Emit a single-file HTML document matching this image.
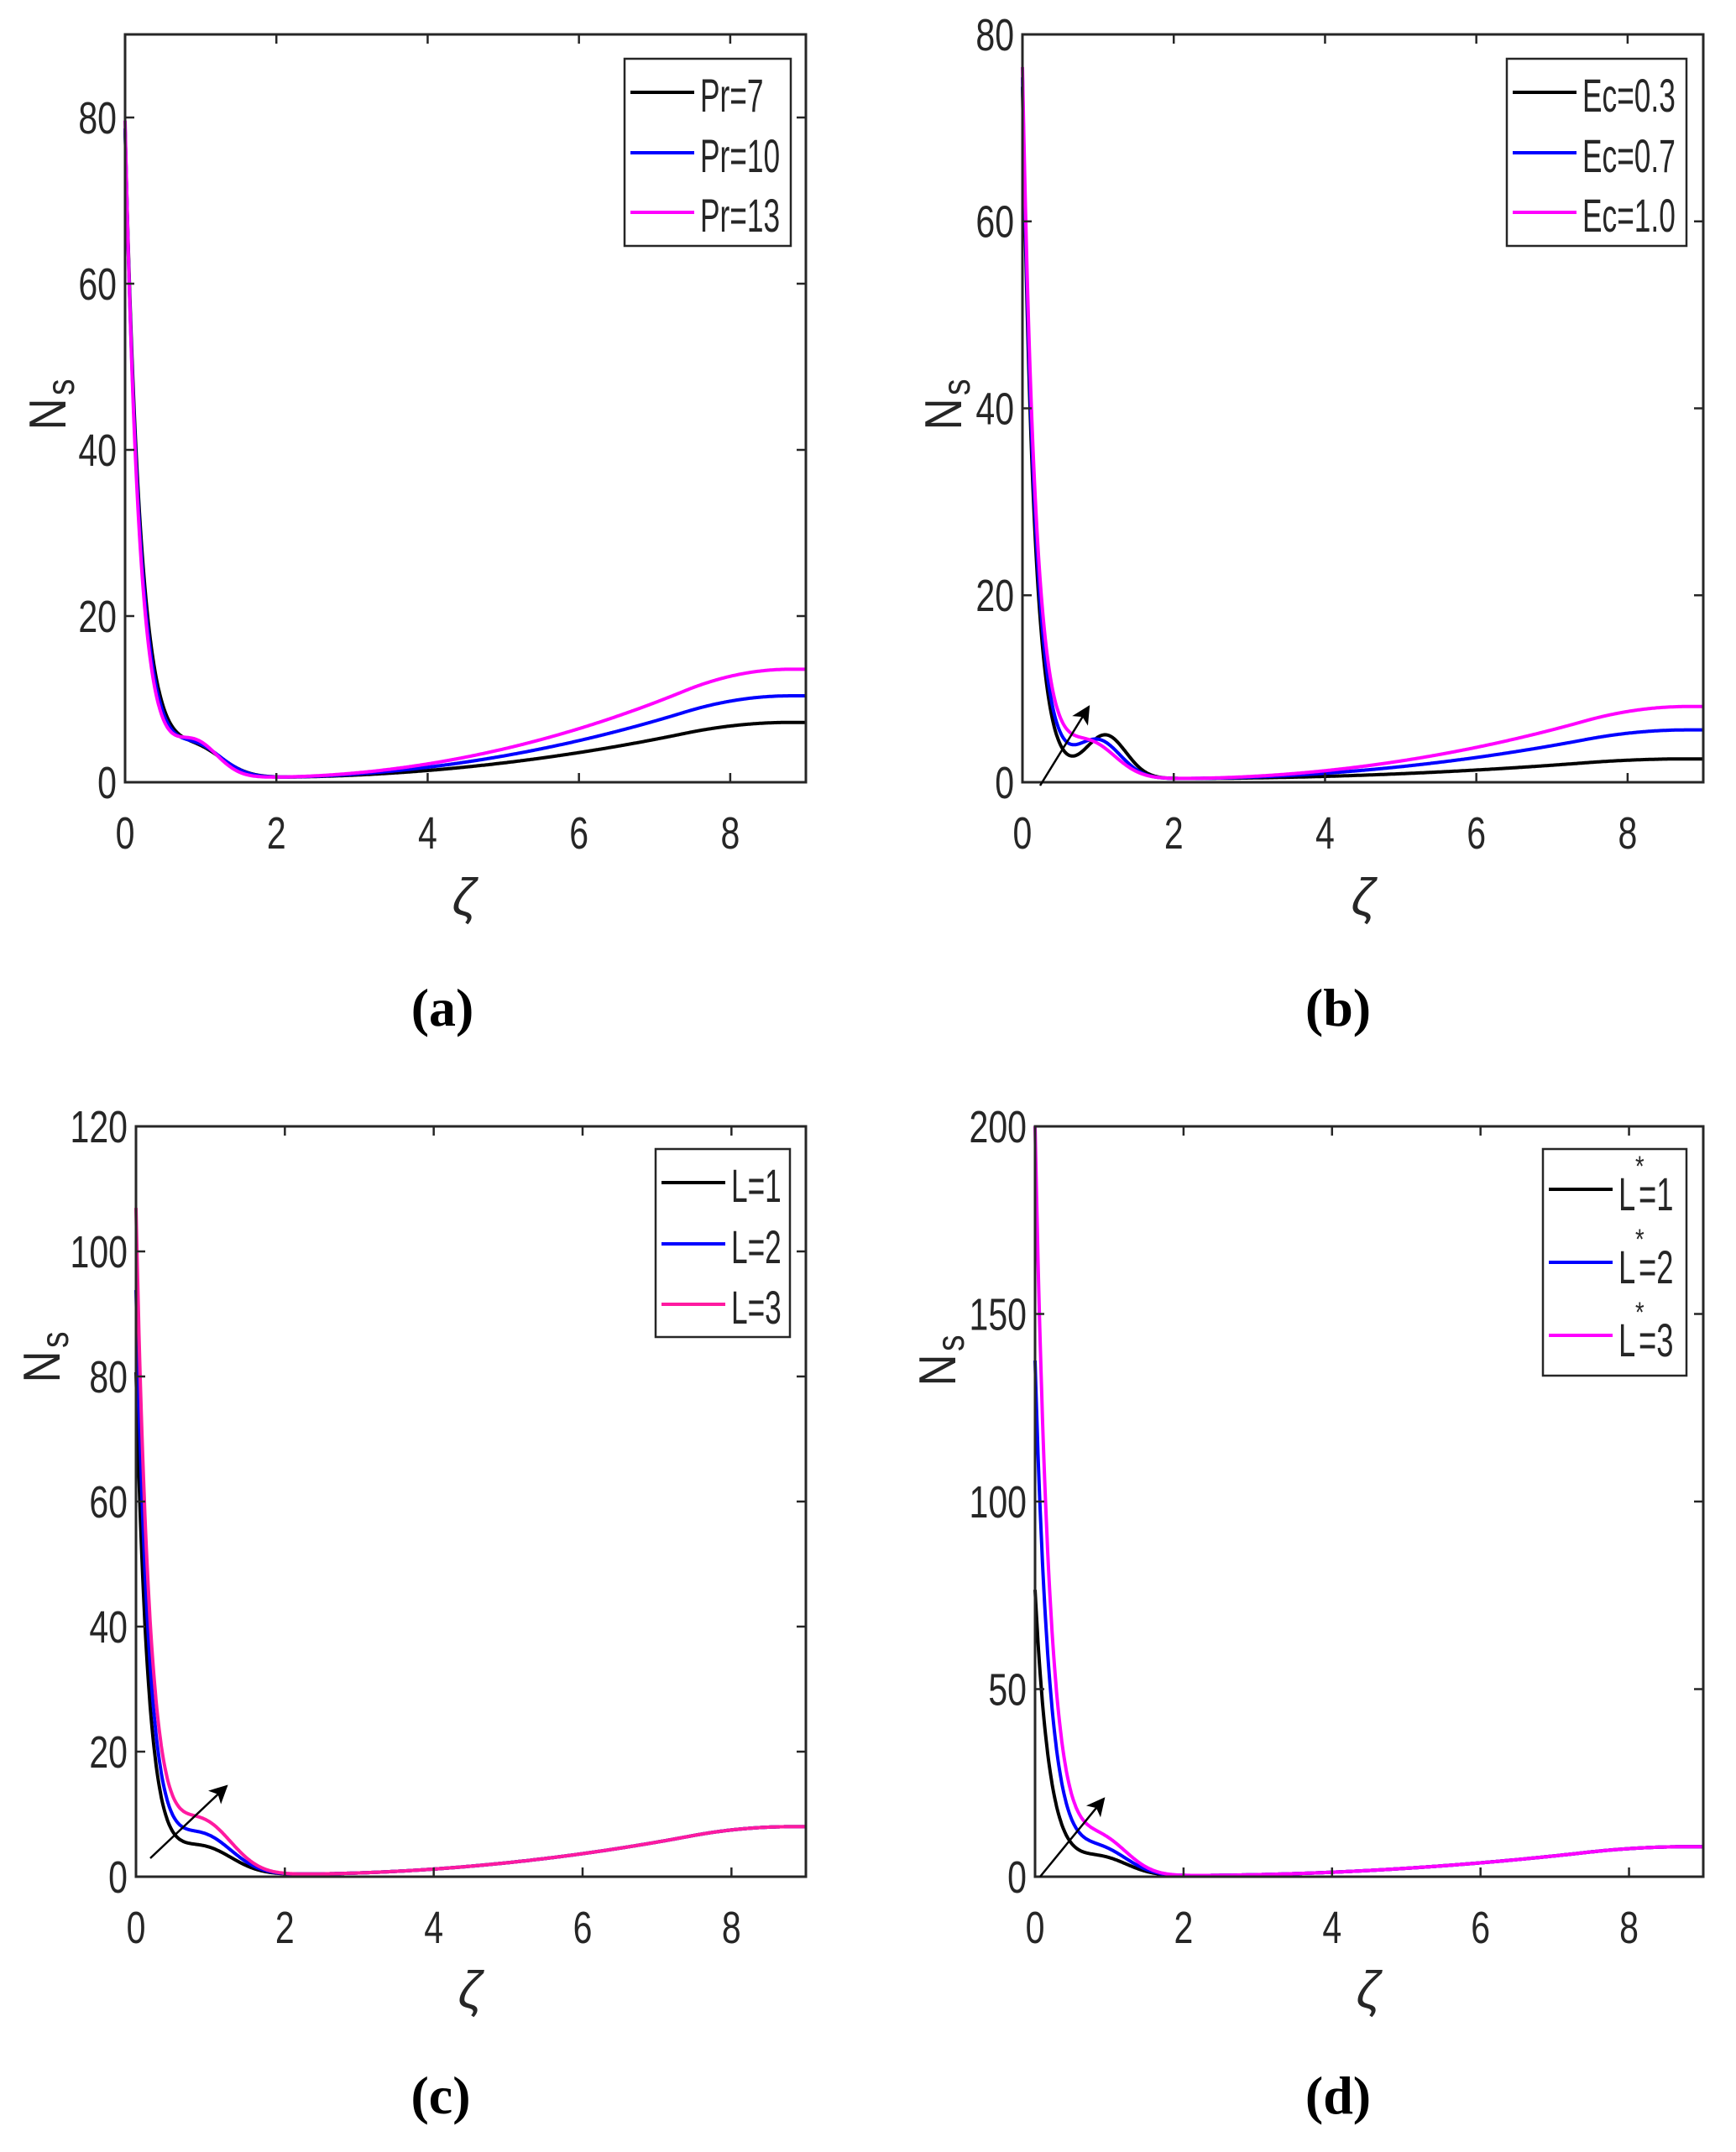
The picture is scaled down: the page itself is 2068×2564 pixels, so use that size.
<!DOCTYPE html>
<html><head><meta charset="utf-8">
<style>
html,body{margin:0;padding:0;background:#fff;}
svg{display:block;}
text{font-family:"Liberation Sans",sans-serif;fill:#262626;}
.lab{font-family:"Liberation Serif",serif;font-weight:bold;fill:#000;}
</style></head>
<body>
<svg id="s" width="2068" height="2564" viewBox="0 0 2068 2564" xmlns="http://www.w3.org/2000/svg"></svg>
<script>
const NS="http://www.w3.org/2000/svg";
const S=document.getElementById('s');
function el(t,a,txt,par){const e=document.createElementNS(NS,t);for(const k in a)e.setAttribute(k,a[k]);if(txt!==undefined)e.textContent=txt;(par||S).appendChild(e);return e;}
function T(x,y,str,size,anchor,sx,fill){
  return el('text',{x:(x/sx).toFixed(1),y:y,'font-size':size,'text-anchor':anchor||'start',transform:`scale(${sx},1)`,fill:fill||'#262626'},str);
}
function sfun(x,x0){let t=(x-x0)/(8.8-x0);if(t<0)return 0;if(t>1)t=1;
  let s=t<=0.8?t*t:0.64+1.6*(t-0.8)-4*(t-0.8)*(t-0.8);return s/0.8;}
const panels=[
 {L:149,R:960,T:41,B:932,ymax:90,yt:[0,20,40,60,80],
  leg:{x:744,y:70,w:198,h:223,ys:[110,182,253]},names:["Pr=7","Pr=10","Pr=13"],
  lab:"(a)",labx:527,laby:1222,zx:553,zy:1090,nsx:56,nsy:482,
  cols:["#000","#0000ff","#ff00ff"],
  cur:[{A:78,d:0.21,B:3.2,xb:0.95,w:0.5,c:0.6,E:6.6,x0:1.8},{A:78,d:0.2,B:3.5,xb:0.95,w:0.48,c:0.6,E:9.8,x0:1.8},{A:79,d:0.19,B:4,xb:0.93,w:0.42,c:0.6,E:13.0,x0:1.8}]},
 {L:1218,R:2029,T:41,B:932,ymax:80,yt:[0,20,40,60,80],
  leg:{x:1795,y:70,w:214,h:223,ys:[110,182,253]},names:["Ec=0.3","Ec=0.7","Ec=1.0"],
  lab:"(b)",labx:1594,laby:1222,zx:1624,zy:1090,nsx:1123,nsy:482,
  cols:["#000","#0000ff","#ff00ff"],arrow:[1239,936,1297,842],
  cur:[{A:74,d:0.16,B:4.6,xb:1.1,w:0.38,c:0.4,E:2.1,x0:2.0},{A:75,d:0.17,B:4,xb:1.0,w:0.42,c:0.4,E:5.2,x0:2.0},{A:76,d:0.18,B:3.6,xb:0.9,w:0.48,c:0.4,E:7.7,x0:2.0}]},
 {L:162,R:960,T:1342,B:2236,ymax:120,yt:[0,20,40,60,80,100,120],
  leg:{x:781,y:1369,w:160,h:224,ys:[1409,1482,1554]},names:["L=1","L=2","L=3"],
  lab:"(c)",labx:525,laby:2518,zx:560,zy:2392,nsx:49,nsy:1617,
  cols:["#000","#0000ff","#ff1aa0"],arrow:[179,2214,270,2128],
  cur:[{A:80,d:0.17,B:4.2,xb:0.9,w:0.55,c:0.4,E:7.6,x0:2.0},{A:93,d:0.18,B:6,xb:0.9,w:0.55,c:0.4,E:7.6,x0:2.0},{A:106,d:0.19,B:8,xb:0.9,w:0.55,c:0.4,E:7.6,x0:2.0}]},
 {L:1233,R:2029,T:1342,B:2236,ymax:200,yt:[0,50,100,150,200],
  leg:{x:1838,y:1369,w:171,h:270,ys:[1417,1504,1591]},names:["L","L","L"],vals:["=1","=2","=3"],
  lab:"(d)",labx:1594,laby:2518,zx:1630,zy:2392,nsx:1116,nsy:1621,
  cols:["#000","#0000ff","#ff00ff"],arrow:[1239,2236,1315,2143],
  cur:[{A:76,d:0.197,B:4.5,xb:0.9,w:0.5,c:0.3,E:7.7,x0:1.9},{A:137,d:0.2,B:6.5,xb:0.9,w:0.5,c:0.3,E:7.7,x0:1.9},{A:200,d:0.2,B:9,xb:0.9,w:0.5,c:0.3,E:7.7,x0:1.9}]}
];
const defs=el('defs',{});
const m=el('marker',{id:'ah',viewBox:'0 0 10 10',markerWidth:'26',markerHeight:'22',refX:'9',refY:'5',orient:'auto',markerUnits:'userSpaceOnUse'},undefined,defs);
el('path',{d:'M0,0 L10,5 L0,10 L2.5,5 z',fill:'#000'},undefined,m);
const XMAX=9;
panels.forEach(p=>{
 const X=x=>p.L+(p.R-p.L)*x/XMAX, Y=y=>p.B-(p.B-p.T)*y/p.ymax;
 p.cur.forEach((c,i)=>{
  let d="";
  for(let k=0;k<=900;k++){
   const x=XMAX*k/900;
   const y=c.A*Math.exp(-x/c.d)+c.B*Math.exp(-Math.pow((x-c.xb)/c.w,2))+c.c+c.E*sfun(x,c.x0);
   d+=(k?"L":"M")+X(x).toFixed(1)+","+Y(Math.min(y,p.ymax)).toFixed(1);
  }
  el('path',{d:d,fill:'none',stroke:p.cols[i],'stroke-width':4,'stroke-linejoin':'round'});
 });
 el('rect',{x:p.L,y:p.T,width:p.R-p.L,height:p.B-p.T,fill:'none',stroke:'#262626','stroke-width':3});
 p.yt.forEach(v=>{const y=Y(v);
  el('line',{x1:p.L,y1:y,x2:p.L+11,y2:y,stroke:'#262626','stroke-width':2.5});
  el('line',{x1:p.R,y1:y,x2:p.R-11,y2:y,stroke:'#262626','stroke-width':2.5});
  T(p.L-10,y+19,String(v),54,'end',0.76);
 });
 [0,2,4,6,8].forEach(v=>{const x=X(v);
  el('line',{x1:x,y1:p.B,x2:x,y2:p.B-11,stroke:'#262626','stroke-width':2.5});
  el('line',{x1:x,y1:p.T,x2:x,y2:p.T+11,stroke:'#262626','stroke-width':2.5});
  T(x,p.B+79,String(v),54,'middle',0.76);
 });
 const L=p.leg;
 el('rect',{x:L.x,y:L.y,width:L.w,height:L.h,fill:'#fff',stroke:'#262626','stroke-width':2.5});
 L.ys.forEach((y,i)=>{
  el('line',{x1:L.x+7,y1:y,x2:L.x+83,y2:y,stroke:p.cols[i],'stroke-width':4});
  if(p.vals){
   T(L.x+90,y+25,"L",56,'start',0.65,'#000');
   T(L.x+110,y-16,"*",34,'start',0.8,'#000');
   T(L.x+114,y+25,p.vals[i],56,'start',0.65,'#000');
  } else T(L.x+90,y+23,p.names[i],56,'start',0.63,'#000');
 });
 if(p.arrow){const a=p.arrow;el('line',{x1:a[0],y1:a[1],x2:a[2],y2:a[3],stroke:'#000','stroke-width':2.5,'marker-end':'url(#ah)'});}
 const t=el('text',{x:0,y:0,'font-size':62,'text-anchor':'middle',transform:`translate(${p.nsx+22},${p.nsy}) rotate(-90) scale(0.85,1)`});
 t.appendChild(document.createTextNode("N"));
 el('tspan',{'font-size':'46','dy':'10','dx':'4'},"s",t);
 el('text',{x:p.zx,y:p.zy,'font-size':62,'text-anchor':'middle','font-style':'italic','font-family':'Liberation Serif, serif',fill:'#262626'},"ζ");
 el('text',{x:p.labx,y:p.laby,'font-size':64,'text-anchor':'middle','class':'lab'},p.lab);
});
</script>
</body></html>
